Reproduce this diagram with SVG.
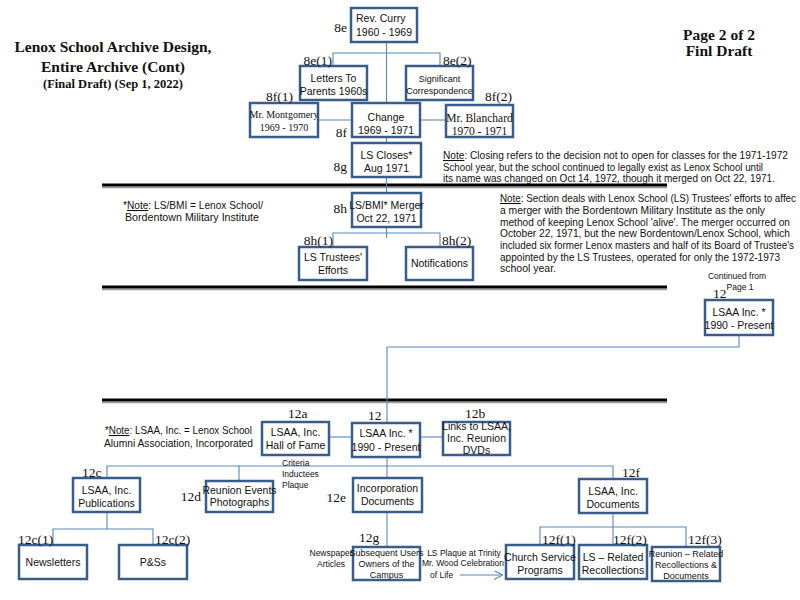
<svg xmlns="http://www.w3.org/2000/svg" width="800" height="600" viewBox="0 0 800 600">
<style>
.box{fill:#fff;stroke:#385d8a;stroke-width:2.5}
.conn{fill:none;stroke:#5b87be;stroke-width:1.1}
.t{font-family:"Liberation Sans",Arial,sans-serif;font-size:10.5px;fill:#111;text-anchor:middle}
.s{font-size:9px}
.sm{font-family:"Liberation Sans",Arial,sans-serif;font-size:8.5px;fill:#111}
.ser{font-family:"Liberation Serif","Times New Roman",serif;fill:#111;text-anchor:middle}
.lbl{font-family:"Liberation Serif","Times New Roman",serif;font-size:13.5px;fill:#111}
.note{font-family:"Liberation Sans",Arial,sans-serif;font-size:10.5px;fill:#111}
.ttl{font-family:"Liberation Serif","Times New Roman",serif;font-weight:bold;fill:#111;text-anchor:middle}
.sep{stroke:#000;stroke-width:3}
.sh{stroke:#999;stroke-width:1.5}
</style>
<defs>
<marker id="arr" viewBox="0 0 10 10" refX="9" refY="5" markerWidth="9" markerHeight="9" orient="auto" markerUnits="userSpaceOnUse">
<path d="M0,0 L10,5 L0,10" fill="none" stroke="#5b87be" stroke-width="1.2"/>
</marker>
</defs>
<rect width="800" height="600" fill="#fff"/>
<!-- titles -->
<text class="ttl" x="113" y="52" font-size="15.5px">Lenox School Archive Design,</text>
<text class="ttl" x="113" y="72" font-size="15.5px">Entire Archive (Cont)</text>
<text class="ttl" x="113" y="88" font-size="12.5px">(Final Draft) (Sep 1, 2022)</text>
<text class="ttl" x="719" y="40" font-size="15.5px">Page 2 of 2</text>
<text class="ttl" x="719" y="56" font-size="15.5px">Finl Draft</text>
<!-- separators -->
<g id="separators">
<line class="sh" x1="102" y1="187.5" x2="667" y2="187.5"/>
<line class="sep" x1="102" y1="185" x2="667" y2="185"/>
<line class="sh" x1="102" y1="289.5" x2="667" y2="289.5"/>
<line class="sep" x1="102" y1="287" x2="667" y2="287"/>
<line class="sh" x1="102" y1="402.5" x2="667" y2="402.5"/>
<line class="sep" x1="102" y1="400" x2="667" y2="400"/>
</g>
<!-- connectors -->
<g id="connectors">
<path class="conn" d="M386.5,42 V193"/>
<path class="conn" d="M386.5,227 V238"/>
<path class="conn" d="M333,66 V53 H440 V66"/>
<path class="conn" d="M318,120 H352"/>
<path class="conn" d="M420,120 H446"/>
<path class="conn" d="M333,247 V233 H440 V247"/>
<path class="conn" d="M739,335 V347 H387 V423"/>
<path class="conn" d="M329,437 H352"/>
<path class="conn" d="M420,437 H443"/>
<path class="conn" d="M387,457 V547"/>
<path class="conn" d="M107,478 V466 H613 V479"/>
<path class="conn" d="M239,466 V481"/>
<path class="conn" d="M107,512 V529"/>
<path class="conn" d="M53,545 V529 H153 V545"/>
<path class="conn" d="M613,513 V545"/>
<path class="conn" d="M540,545 V527 H686 V547"/>
<path class="conn" d="M460,575 H502" marker-end="url(#arr)"/>
</g>
<!-- nodes -->
<g id="n8e"><rect class="box" x="351" y="8" width="66" height="34"/>
<text class="t" x="356" y="22" style="text-anchor:start">Rev. Curry</text>
<text class="t" x="356" y="36" style="text-anchor:start">1960 - 1969</text></g>
<g id="n8e1"><rect class="box" x="300" y="66" width="67" height="34"/>
<text class="t" x="333.5" y="82">Letters To</text>
<text class="t" x="333.5" y="95">Parents 1960s</text></g>
<g id="n8e2"><rect class="box" x="406" y="66" width="67" height="34"/>
<text class="t s" x="439.5" y="82">Significant</text>
<text class="t s" x="439.5" y="94">Correspondence</text></g>
<g id="n8f1"><rect class="box" x="250" y="103" width="68" height="34"/>
<text class="ser" x="284" y="118" font-size="10px">Mr. Montgomery</text>
<text class="ser" x="284" y="131" font-size="10px">1969 - 1970</text></g>
<g id="n8f"><rect class="box" x="352" y="103" width="68" height="34"/>
<text class="t" x="386" y="121">Change</text>
<text class="t" x="386" y="134">1969 - 1971</text></g>
<g id="n8f2"><rect class="box" x="446" y="105" width="67" height="32"/>
<text class="ser" x="479.5" y="122" font-size="11.5px">Mr. Blanchard</text>
<text class="ser" x="479.5" y="135" font-size="11.5px">1970 - 1971</text></g>
<g id="n8g"><rect class="box" x="352" y="143" width="69" height="34"/>
<text class="t" x="386.5" y="159">LS Closes*</text>
<text class="t" x="386.5" y="172">Aug 1971</text></g>
<g id="n8h"><rect class="box" x="352" y="193" width="69" height="34"/>
<text class="t" x="386.5" y="209" font-size="9.5px">LS/BMI* Merger</text>
<text class="t" x="386.5" y="222" font-size="9.5px">Oct 22, 1971</text></g>
<g id="n8h1"><rect class="box" x="299" y="247" width="68" height="33"/>
<text class="t" x="333" y="261">LS Trustees'</text>
<text class="t" x="333" y="274">Efforts</text></g>
<g id="n8h2"><rect class="box" x="406" y="247" width="67" height="33"/>
<text class="t" x="439.5" y="267">Notifications</text></g>
<g id="n12top"><rect class="box" x="705" y="300" width="68" height="35"/>
<text class="t" x="739" y="316">LSAA Inc. *</text>
<text class="t" x="739" y="329">1990 - Present</text></g>
<g id="n12a"><rect class="box" x="262" y="422" width="67" height="33"/>
<text class="t" x="295.5" y="436">LSAA, Inc.</text>
<text class="t" x="295.5" y="449">Hall of Fame</text></g>
<g id="n12"><rect class="box" x="352" y="423" width="68" height="34"/>
<text class="t" x="386" y="437">LSAA Inc. *</text>
<text class="t" x="386" y="451">1990 - Present</text></g>
<g id="n12b"><rect class="box" x="443" y="422" width="67" height="33"/>
<text class="t" x="476.5" y="430" font-size="10px">Links to LSAA,</text>
<text class="t" x="476.5" y="442" font-size="10px">Inc. Reunion</text>
<text class="t" x="476.5" y="454" font-size="10px">DVDs</text></g>
<g id="n12c"><rect class="box" x="73" y="478" width="67" height="34"/>
<text class="t" x="106.5" y="494">LSAA, Inc.</text>
<text class="t" x="106.5" y="507">Publications</text></g>
<g id="n12d"><rect class="box" x="206" y="481" width="67" height="31"/>
<text class="t" x="239.5" y="494" font-size="9.5px">Reunion Events</text>
<text class="t" x="239.5" y="506" font-size="9.5px">Photographs</text></g>
<g id="n12e"><rect class="box" x="353" y="478" width="69" height="34"/>
<text class="t" x="387.5" y="492">Incorporation</text>
<text class="t" x="387.5" y="505">Documents</text></g>
<g id="n12f"><rect class="box" x="579" y="479" width="68" height="34"/>
<text class="t" x="613" y="495">LSAA, Inc.</text>
<text class="t" x="613" y="508">Documents</text></g>
<g id="n12c1"><rect class="box" x="19" y="545" width="68" height="34"/>
<text class="t" x="53" y="566">Newsletters</text></g>
<g id="n12c2"><rect class="box" x="119" y="545" width="68" height="34"/>
<text class="t" x="153" y="566">P&amp;Ss</text></g>
<g id="n12g"><rect class="box" x="353" y="547" width="67" height="33"/>
<text class="t s" x="386.5" y="556">Subsequent Users</text>
<text class="t s" x="386.5" y="567">Owners of the</text>
<text class="t s" x="386.5" y="578">Campus</text></g>
<g id="n12f1"><rect class="box" x="506" y="545" width="68" height="34"/>
<text class="t" x="540" y="561" font-size="11px">Church Service</text>
<text class="t" x="540" y="574" font-size="11px">Programs</text></g>
<g id="n12f2"><rect class="box" x="579" y="545" width="68" height="34"/>
<text class="t" x="613" y="561" font-size="11px">LS – Related</text>
<text class="t" x="613" y="574" font-size="11px">Recollections</text></g>
<g id="n12f3"><rect class="box" x="652" y="547" width="68" height="34"/>
<text class="t s" x="686" y="557">Reunion – Related</text>
<text class="t s" x="686" y="568">Recollections &amp;</text>
<text class="t s" x="686" y="579">Documents</text></g>
<!-- labels -->
<g id="labels">
<text class="lbl" x="347" y="32" text-anchor="end">8e</text>
<text class="lbl" x="332" y="65" text-anchor="end">8e(1)</text>
<text class="lbl" x="443" y="65">8e(2)</text>
<text class="lbl" x="293" y="101" text-anchor="end">8f(1)</text>
<text class="lbl" x="485" y="101">8f(2)</text>
<text class="lbl" x="347" y="137" text-anchor="end">8f</text>
<text class="lbl" x="347" y="171" text-anchor="end">8g</text>
<text class="lbl" x="347" y="213" text-anchor="end">8h</text>
<text class="lbl" x="333" y="245" text-anchor="end">8h(1)</text>
<text class="lbl" x="442" y="245">8h(2)</text>
<text class="lbl" x="713" y="298">12</text>
<text class="lbl" x="288" y="418">12a</text>
<text class="lbl" x="368" y="420">12</text>
<text class="lbl" x="465" y="418">12b</text>
<text class="lbl" x="82" y="477">12c</text>
<text class="lbl" x="201" y="501" text-anchor="end">12d</text>
<text class="lbl" x="346" y="502" text-anchor="end">12e</text>
<text class="lbl" x="622" y="477">12f</text>
<text class="lbl" x="18" y="544">12c(1)</text>
<text class="lbl" x="155" y="544">12c(2)</text>
<text class="lbl" x="359" y="542">12g</text>
<text class="lbl" x="542" y="544">12f(1)</text>
<text class="lbl" x="613" y="544">12f(2)</text>
<text class="lbl" x="688" y="544">12f(3)</text>
</g>
<!-- notes -->
<g id="notes">
<text class="note" x="443" y="159" textLength="345" lengthAdjust="spacingAndGlyphs"><tspan text-decoration="underline">Note</tspan>: Closing refers to the decision not to open for classes for the 1971-1972</text>
<text class="note" x="443" y="171" textLength="320" lengthAdjust="spacingAndGlyphs">School year, but the school continued to legally exist as Lenox School until</text>
<text class="note" x="443" y="182" textLength="332" lengthAdjust="spacingAndGlyphs">its name was changed on Oct 14, 1972, though it merged on Oct 22, 1971.</text>
<text class="note" x="123" y="209" textLength="140" lengthAdjust="spacingAndGlyphs">*<tspan text-decoration="underline">Note</tspan>: LS/BMI = Lenox School/</text>
<text class="note" x="125" y="221" textLength="134" lengthAdjust="spacingAndGlyphs">Bordentown Military Institute</text>
<text class="note" x="500" y="202" textLength="296" lengthAdjust="spacingAndGlyphs"><tspan text-decoration="underline">Note</tspan>: Section deals with Lenox School (LS) Trustees' efforts to affec</text>
<text class="note" x="500" y="214" textLength="265" lengthAdjust="spacingAndGlyphs">a merger with the Bordentown Military Institute as the only</text>
<text class="note" x="500" y="226" textLength="290" lengthAdjust="spacingAndGlyphs">method of keeping Lenox School 'alive'.  The merger occurred on</text>
<text class="note" x="500" y="237" textLength="290" lengthAdjust="spacingAndGlyphs">October 22, 1971, but the new Bordentown/Lenox School, which</text>
<text class="note" x="500" y="249" textLength="294" lengthAdjust="spacingAndGlyphs">included six former Lenox masters and half of its Board of Trustee's</text>
<text class="note" x="500" y="261" textLength="280" lengthAdjust="spacingAndGlyphs">appointed by the LS Trustees, operated for only the 1972-1973</text>
<text class="note" x="500" y="272">school year.</text>
<text class="sm" x="737" y="279" text-anchor="middle">Continued from</text>
<text class="sm" x="740" y="290" text-anchor="middle">Page 1</text>
<text class="note" x="105" y="434" textLength="147" lengthAdjust="spacingAndGlyphs">*<tspan text-decoration="underline">Note</tspan>: LSAA, Inc. = Lenox School</text>
<text class="note" x="104" y="447" textLength="149" lengthAdjust="spacingAndGlyphs">Alumni Association, Incorporated</text>
<text class="sm" x="282" y="466">Criteria</text>
<text class="sm" x="282" y="477">Inductees</text>
<text class="sm" x="282" y="488">Plaque</text>
<text class="sm" x="331" y="556" text-anchor="middle">Newspaper</text>
<text class="sm" x="331" y="567" text-anchor="middle">Articles</text>
<text class="sm" x="464" y="556" text-anchor="middle">LS Plaque at Trinity</text>
<text class="sm" x="463" y="566" text-anchor="middle">Mr. Wood Celebration</text>
<text class="sm" x="430" y="578">of Life</text>
</g>
</svg>
